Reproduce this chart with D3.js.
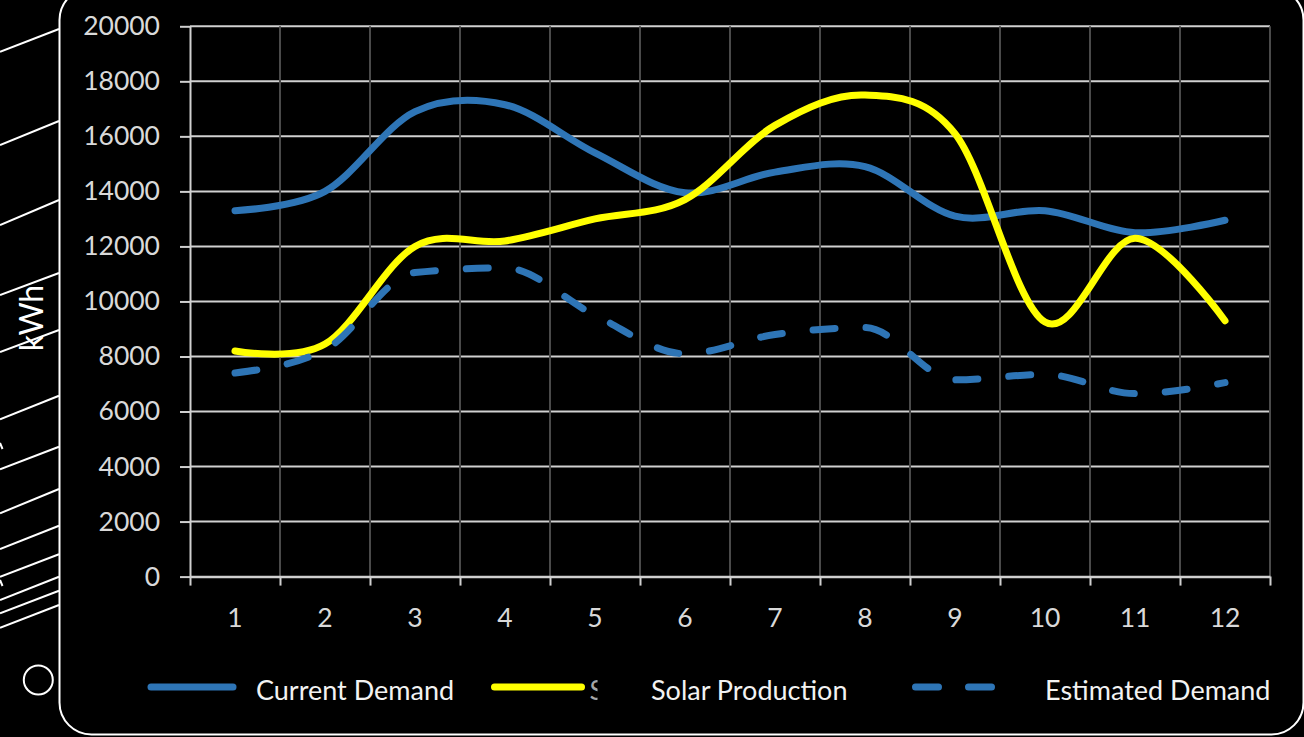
<!DOCTYPE html>
<html>
<head>
<meta charset="utf-8">
<title>Monthly Demand and Solar Production</title>
<script src="https://cdn.jsdelivr.net/npm/d3@7"></script>
<style>
  html, body { margin: 0; padding: 0; background: #000; }
  svg { display: block; }
  text { font-family: Lato, "Open Sans", sans-serif; }
</style>
</head>
<body>
<svg id="chart" width="1304" height="737"></svg>
<script>
// Months of the year
const categories = ["1", "2", "3", "4", "5", "6", "7", "8", "9", "10", "11", "12"];

// Energy per month, kWh
const currentDemand   = [13300, 14000, 16900, 17150, 15400, 13950, 14700, 14900, 13100, 13300, 12500, 12950];
const solarProduction = [8200, 8450, 12000, 12200, 13000, 13700, 16400, 17500, 16100, 9250, 12300, 9300];
const estimatedDemand = [7400, 8250, 11050, 11220, 9500, 8100, 8800, 9050, 7150, 7350, 6650, 7050];

// Value axis ticks
const yTicks = [0, 2000, 4000, 6000, 8000, 10000, 12000, 14000, 16000, 18000, 20000];

const seriesNames = ["Current Demand", "Solar Production", "Estimated Demand"];

const svg = d3.select("#chart");
const W = 1304, H = 737;

svg.append("rect").attr("width", W).attr("height", H).attr("fill", "#000");

// ---- tablet outline on the left ----
const deco = svg.append("g").attr("stroke", "#fff").attr("fill", "none");
const stripes = [
  [51.7, 29], [145, 121], [225, 200], [295, 273], [352, 330],
  [419.3, 395.7], [469.3, 446.7], [513.3, 489], [549, 525.7],
  [576.7, 554.3], [600, 576.7], [613.3, 590.7], [627.7, 605]
];
deco.selectAll("line.stripe").data(stripes).join("line")
  .attr("class", "stripe")
  .attr("x1", 0).attr("y1", d => d[0])
  .attr("x2", 59).attr("y2", d => d[1])
  .attr("stroke-width", 2);
deco.selectAll("line.nub").data([446, 583]).join("line")
  .attr("class", "nub")
  .attr("x1", 0).attr("x2", 2.5)
  .attr("y1", d => d - 3).attr("y2", d => d + 3)
  .attr("stroke-width", 2);
deco.append("circle").attr("cx", 38.3).attr("cy", 680).attr("r", 14.5).attr("stroke-width", 2);
deco.append("rect")
  .attr("x", 59.5).attr("y", -12).attr("width", 1244).attr("height", 746.5)
  .attr("rx", 32).attr("ry", 32)
  .attr("fill", "#000")
  .attr("stroke-width", 2);

// ---- scales ----
const plot = { left: 190, right: 1270, top: 26.3, bottom: 576.6 };
const x = d3.scaleBand().domain(categories).range([plot.left, plot.right]);
const xc = c => x(c) + x.bandwidth() / 2;
const xEdge = d3.scaleLinear().domain([0, categories.length]).range([plot.left, plot.right]);
const y = d3.scaleLinear().domain([0, 20000]).range([plot.bottom, plot.top]);

const gridLight = "#d0d0d0";
const gridDark = "#4a4a4a";

// horizontal gridlines
svg.append("g").selectAll("line").data(yTicks.filter(v => v > 0)).join("line")
  .attr("x1", plot.left).attr("x2", plot.right)
  .attr("y1", d => y(d)).attr("y2", d => y(d))
  .attr("stroke", gridLight).attr("stroke-width", 2);

// vertical gridlines at category boundaries
svg.append("g").selectAll("line").data(d3.range(1, categories.length + 1)).join("line")
  .attr("x1", d => xEdge(d)).attr("x2", d => xEdge(d))
  .attr("y1", plot.top).attr("y2", plot.bottom)
  .attr("stroke", gridDark).attr("stroke-width", 2);

// value axis
const yAxis = svg.append("g")
  .attr("transform", `translate(${plot.left},0)`)
  .call(d3.axisLeft(y).tickValues(yTicks).tickFormat(d3.format("d"))
    .tickSize(10).tickSizeOuter(0).tickPadding(20));
yAxis.select(".domain").attr("stroke", gridLight).attr("stroke-width", 2);
yAxis.selectAll(".tick line").attr("stroke", gridLight).attr("stroke-width", 2);
yAxis.selectAll(".tick text")
  .attr("fill", "#d9d9d9").attr("font-size", 26.5).attr("font-family", "Lato, sans-serif");

// category axis: boundary ticks
const xTickAxis = svg.append("g")
  .attr("transform", `translate(0,${plot.bottom})`)
  .call(d3.axisBottom(xEdge).tickValues(d3.range(0, categories.length + 1))
    .tickFormat("").tickSize(9).tickSizeOuter(0));
xTickAxis.select(".domain").attr("stroke", gridLight).attr("stroke-width", 2.5);
xTickAxis.selectAll(".tick line").attr("stroke", gridLight).attr("stroke-width", 2);

// category axis: labels at band centres
const xLabelAxis = svg.append("g")
  .attr("transform", `translate(0,${plot.bottom})`)
  .call(d3.axisBottom(x).tickSize(0).tickPadding(32));
xLabelAxis.select(".domain").remove();
xLabelAxis.selectAll(".tick text")
  .attr("fill", "#d9d9d9").attr("font-size", 26.5).attr("font-family", "Lato, sans-serif");

// axis title
svg.append("text")
  .attr("transform", "translate(43,318) rotate(-90)")
  .attr("text-anchor", "middle")
  .attr("fill", "#fff")
  .attr("font-size", 32)
  .text("kWh");

// ---- series ----
const blue = "#2E75B6", yellow = "#FFFF00";
const lineFor = curve => d3.line()
  .x((d, i) => xc(categories[i]))
  .y(d => y(d))
  .curve(curve);

const series = [
  { values: currentDemand, color: blue, dash: null, curve: d3.curveCardinal.tension(0) },
  { values: solarProduction, color: yellow, dash: null, curve: d3.curveCardinal.tension(0) },
  { values: estimatedDemand, color: blue, dash: "22 31", curve: d3.curveMonotoneX }
];

svg.append("g").selectAll("path").data(series).join("path")
  .attr("d", d => lineFor(d.curve)(d.values))
  .attr("fill", "none")
  .attr("stroke", d => d.color)
  .attr("stroke-width", 7)
  .attr("stroke-linecap", "round")
  .attr("stroke-linejoin", "round")
  .attr("stroke-dasharray", d => d.dash);

// ---- legend ----
const legendItems = [
  { name: seriesNames[0], color: blue, dash: null, x1: 151, x2: 233, tx: 256 },
  { name: seriesNames[1], color: yellow, dash: null, x1: 494.5, x2: 581.5, tx: 651 },
  { name: seriesNames[2], color: blue, dash: "23 30", x1: 915.5, x2: 995, tx: 1045 }
];
const legendY = 687;
const lg = svg.append("g");
lg.selectAll("line").data(legendItems).join("line")
  .attr("x1", d => d.x1).attr("x2", d => d.x2)
  .attr("y1", legendY).attr("y2", legendY)
  .attr("stroke", d => d.color)
  .attr("stroke-width", 7)
  .attr("stroke-linecap", "round")
  .attr("stroke-dasharray", d => d.dash);
lg.selectAll("text").data(legendItems).join("text")
  .attr("x", d => d.tx).attr("y", 699.5)
  .attr("fill", "#f2f2f2")
  .attr("font-size", 27)
  .text(d => d.name);

// clipped leftover glyph beside the yellow key
svg.append("clipPath").attr("id", "sclip")
  .append("rect").attr("x", 588).attr("y", 660).attr("width", 9.5).attr("height", 50);
svg.append("text")
  .attr("clip-path", "url(#sclip)")
  .attr("x", 589.5).attr("y", 699.5)
  .attr("fill", "#a6a6a6")
  .attr("font-size", 27)
  .text("S");
</script>
</body>
</html>
